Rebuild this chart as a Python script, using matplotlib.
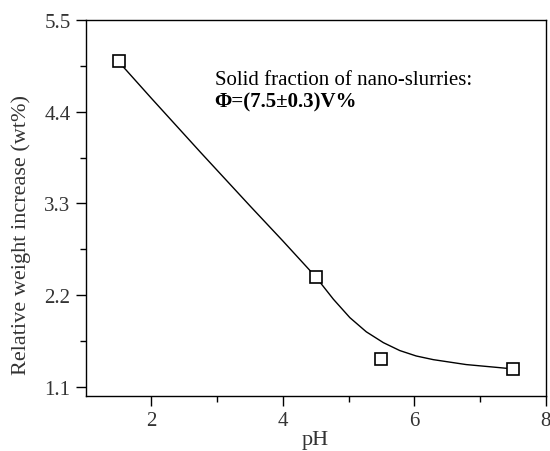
import matplotlib
matplotlib.use("Agg")
import matplotlib.pyplot as plt
from matplotlib.ticker import FixedLocator

# measured points
ph = [1.5, 4.5, 5.5, 7.5]
weight_increase = [5.01, 2.42, 1.435, 1.315]

# fitted curve
curve_ph = [1.5, 2.0, 2.75, 3.5, 4.0, 4.5, 4.77, 5.02, 5.27, 5.53, 5.78, 6.03, 6.29, 6.79, 7.3, 7.5]
curve_val = [5.0, 4.56, 3.91, 3.27, 2.85, 2.42, 2.15, 1.93, 1.76, 1.63, 1.535, 1.47, 1.426, 1.367, 1.33, 1.315]

yticks = [1.1, 2.2, 3.3, 4.4, 5.5]
yminor = [1.65, 2.75, 3.85, 4.95]
xticks = [2, 4, 6, 8]
xminor = [3, 5, 7]

plt.rcParams['font.family'] = ['Liberation Serif', 'DejaVu Serif']

fig = plt.figure(figsize=(5.5, 4.52), dpi=100)
ax = fig.add_axes([0.156, 0.1217, 0.836, 0.8318])

ax.plot(curve_ph, curve_val, color='black', lw=1.0, zorder=2, solid_joinstyle='round')
ax.plot(ph, weight_increase, ls='none', marker='s', ms=8.5, mfc='white',
        mec='black', mew=1.2, zorder=3)

ax.set_xlim(1, 8)
ax.set_ylim(0.99, 5.5)
ax.xaxis.set_major_locator(FixedLocator(xticks))
ax.xaxis.set_minor_locator(FixedLocator(xminor))
ax.yaxis.set_major_locator(FixedLocator(yticks))
ax.yaxis.set_minor_locator(FixedLocator(yminor))
ax.set_yticklabels([f"{v:.1f}" for v in yticks])
ax.tick_params(which='major', direction='out', length=7, width=1, labelsize=15,
               colors='black', labelcolor='#333333', pad=4)
ax.tick_params(which='minor', direction='out', length=4, width=1)
for s in ax.spines.values():
    s.set_linewidth(1.0)

ax.set_xlabel('pH', fontsize=16, labelpad=0, color='#333333')
ax.set_ylabel('Relative weight increase (wt%)', fontsize=16, color='#333333')
ax.yaxis.set_label_coords(-0.12, 0.43)

ax.text(2.96, 4.79, 'Solid fraction of nano-slurries:', fontsize=15, va='center', ha='left')
ax.text(2.96, 4.52, 'Φ=(7.5±0.3)V%', fontsize=15, va='center', ha='left', fontweight='bold')

fig.savefig('out.png', dpi=100)
